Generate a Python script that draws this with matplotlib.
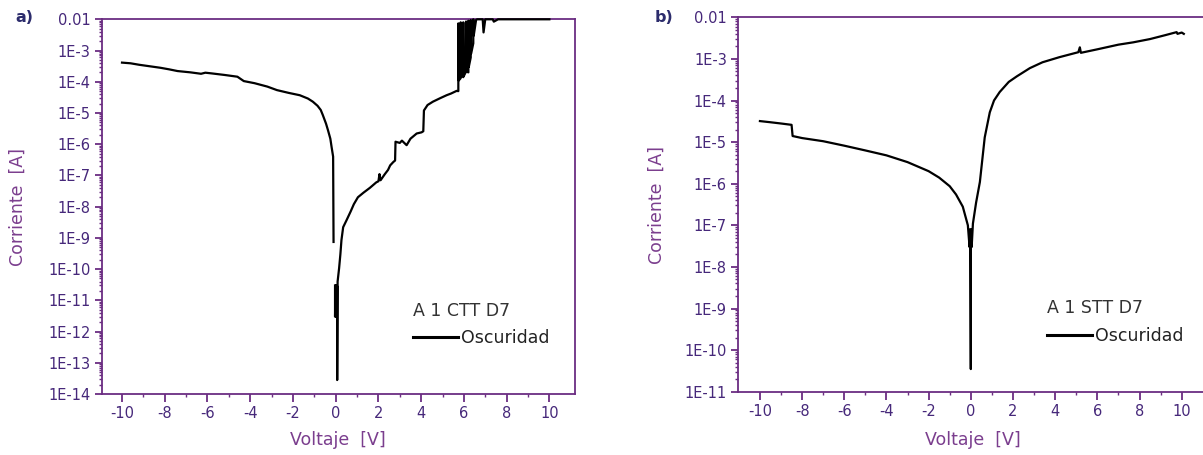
import matplotlib
matplotlib.use("Agg")
import matplotlib.pyplot as plt
from matplotlib.ticker import FixedLocator, FixedFormatter, LogLocator, NullFormatter

nan = float("nan")

# ---------------- data ----------------
# Panel a) A 1 CTT D7 (dark)
v_a = [-10.0, -9.6, -9.2, -8.8, -8.2, -7.8, -7.4, -6.8, -6.3, -6.1, -5.8, -5.2, -4.6, -4.3,
       -3.8, -3.2, -2.75, -2.2, -1.68, -1.3, -1.07, -0.85, -0.7, -0.6, -0.45, -0.36, -0.25,
       -0.19, -0.12, -0.1, nan,
       -0.03, -0.03, -0.01, -0.01, 0.01, 0.01, 0.03, 0.03, 0.05, nan,
       0.07, 0.07, 0.09, 0.16, 0.22, 0.27, 0.35, 0.51, 0.7, 0.85, 1.04, 1.3, 1.6, 1.9, 2.0,
       2.05, 2.1, 2.3, 2.45, 2.55, 2.7, 2.78, 2.8, 3.0, 3.1, 3.32, 3.5, 3.79, 4.02, 4.1, 4.13,
       4.3, 4.55, 4.9, 5.19, 5.4, 5.66, 5.74,
       5.74, 5.76, 5.85, 5.85, 5.87, 5.97, 5.97, 5.99, 6.10, 6.10, 6.12, 6.21, 6.21, 6.23,
       6.32, 6.32, 6.34, 6.44, 6.44, 6.46, 6.57, 6.62, 6.75, 6.88, 6.92, 7.0,
       7.2, 7.35, 7.4, 7.6, 8.0, 9.0, 10.0]
i_a = [4.1e-4, 3.9e-4, 3.5e-4, 3.2e-4, 2.8e-4, 2.5e-4, 2.2e-4, 2.0e-4, 1.8e-4, 1.95e-4,
       1.85e-4, 1.65e-4, 1.45e-4, 1.05e-4, 9e-5, 7e-5, 5.4e-5, 4.4e-5, 3.7e-5, 2.9e-5,
       2.3e-5, 1.7e-5, 1.25e-5, 8.5e-6, 4.5e-6, 2.8e-6, 1.5e-6, 8e-7, 4e-7, 7.4e-10, nan,
       3e-11, 3e-12, 2e-11, 4e-12, 3e-11, 3e-12, 2e-11, 4e-12, 2.5e-11, nan,
       2.7e-11, 2.8e-14, 4e-11, 1.07e-10, 3e-10, 8.5e-10, 2.2e-9, 3.7e-9, 7e-9, 1.2e-8,
       2.0e-8, 2.8e-8, 4e-8, 6e-8, 6.5e-8, 1.1e-7, 7e-8, 1.1e-7, 1.5e-7, 2.1e-7, 2.7e-7,
       3e-7, 1.2e-6, 1.1e-6, 1.3e-6, 9.3e-7, 1.5e-6, 2.2e-6, 2.4e-6, 2.6e-6, 1.2e-5,
       1.8e-5, 2.3e-5, 3e-5, 3.7e-5, 4.2e-5, 5.1e-5, 5.0e-5,
       7.4e-3, 1.1e-4, 1.3e-4, 8e-3, 1.6e-4, 1.4e-4, 8e-3, 1.5e-4, 2.1e-4, 8.5e-3, 2.1e-4,
       2e-4, 9e-3, 3e-4, 6e-4, 9.5e-3, 8e-4, 1.7e-3, 1e-2, 3e-3, 9.5e-3, 1e-2, 1e-2,
       1e-2, 3.8e-3, 1e-2, 1e-2, 1e-2, 8.4e-3, 1e-2, 1e-2, 1e-2, 1e-2]

# Panel b) A 1 STT D7 (dark)
v_b = [-10.0, -9.5, -9.0, -8.5, -8.45, -8.0, -7.0, -6.0, -5.0, -4.0, -3.0, -2.0, -1.5, -1.0,
       -0.7, -0.38, -0.14, -0.06, -0.04, -0.02, 0.0, 0.0, 0.02, 0.04, 0.1, 0.25, 0.43, 0.55,
       0.66, 0.9, 1.1, 1.37, 1.8, 2.18, 2.8, 3.4, 4.2, 5.1, 5.17, 5.22, 6.0, 7.0, 7.7, 8.5,
       9.2, 9.76, 9.8, 10.0, 10.1]
i_b = [3.2e-5, 3.0e-5, 2.8e-5, 2.6e-5, 1.4e-5, 1.25e-5, 1.05e-5, 8.2e-6, 6.3e-6, 4.8e-6,
       3.3e-6, 2.0e-6, 1.4e-6, 8.7e-7, 5.5e-7, 2.8e-7, 1.0e-7, 3e-8, 8e-8, 2.5e-8, 3.5e-11,
       3e-8, 8e-8, 3e-8, 1.1e-7, 3.5e-7, 1.1e-6, 4e-6, 1.3e-5, 5.2e-5, 1e-4, 1.6e-4, 2.8e-4,
       3.8e-4, 6e-4, 8.3e-4, 1.1e-3, 1.45e-3, 1.9e-3, 1.4e-3, 1.7e-3, 2.2e-3, 2.5e-3, 3.0e-3,
       3.7e-3, 4.4e-3, 4.0e-3, 4.3e-3, 4.0e-3]

x_ticks = [-10, -8, -6, -4, -2, 0, 2, 4, 6, 8, 10]
x_tick_labels = ["-10", "-8", "-6", "-4", "-2", "0", "2", "4", "6", "8", "10"]
y_ticks_a = [1e-2, 1e-3, 1e-4, 1e-5, 1e-6, 1e-7, 1e-8, 1e-9, 1e-10, 1e-11, 1e-12, 1e-13, 1e-14]
y_labels_a = ["0.01", "1E-3", "1E-4", "1E-5", "1E-6", "1E-7", "1E-8", "1E-9", "1E-10",
              "1E-11", "1E-12", "1E-13", "1E-14"]
y_ticks_b = [1e-2, 1e-3, 1e-4, 1e-5, 1e-6, 1e-7, 1e-8, 1e-9, 1e-10, 1e-11]
y_labels_b = ["0.01", "1E-3", "1E-4", "1E-5", "1E-6", "1E-7", "1E-8", "1E-9", "1E-10", "1E-11"]
series_name = "Oscuridad"
title_a = "A 1 CTT D7"
title_b = "A 1 STT D7"
x_label = "Voltaje  [V]"
y_label = "Corriente  [A]"

# ---------------- style ----------------
plt.rcParams["font.family"] = ["DejaVu Sans"]
plt.rcParams["axes.unicode_minus"] = False
spine_c = "#6b2d82"
tick_c = "#46287a"
label_c = "#7b3e8e"
W, H = 1203, 455
fig = plt.figure(figsize=(W / 100, H / 100), dpi=100)


def px_axes(l, t, r, b):
    return fig.add_axes([l / W, 1 - b / H, (r - l) / W, (b - t) / H])


def style(ax, yt, yl, ylim, xlim, ylab_x, xlab_y):
    ax.set_yscale("log")
    ax.set_ylim(*ylim)
    ax.set_xlim(*xlim)
    ax.xaxis.set_major_locator(FixedLocator(x_ticks))
    ax.xaxis.set_major_formatter(FixedFormatter(x_tick_labels))
    ax.xaxis.set_minor_locator(FixedLocator([-9, -7, -5, -3, -1, 1, 3, 5, 7, 9]))
    ax.yaxis.set_major_locator(FixedLocator(yt))
    ax.yaxis.set_major_formatter(FixedFormatter(yl))
    ax.yaxis.set_minor_locator(LogLocator(base=10, subs=range(2, 10), numticks=50))
    ax.yaxis.set_minor_formatter(NullFormatter())
    for s in ax.spines.values():
        s.set_color(spine_c)
        s.set_linewidth(1.3)
    ax.tick_params(which="major", direction="out", length=5, width=1.3, color=spine_c,
                   labelcolor=tick_c, labelsize=10.5, pad=3)
    ax.tick_params(which="minor", direction="out", length=2.5, width=1.0, color=spine_c)
    ax.tick_params(axis="x", which="major", length=6, pad=3)
    ax.set_xlabel(x_label, color=label_c, fontsize=12.5, va="center")
    ax.set_ylabel(y_label, color=label_c, fontsize=12.5, va="center")
    ax.yaxis.set_label_coords(ylab_x, 0.5)
    ax.xaxis.set_label_coords(0.5, xlab_y)


def add_legend(ax, line, title):
    leg = ax.legend([line], [series_name], title=title, frameon=False, loc="upper left",
                    bbox_to_anchor=(0.64, 0.27), fontsize=12.5, title_fontsize=12.5,
                    handlelength=2.6, handletextpad=0.15, borderpad=0, labelspacing=0.55)
    leg._legend_box.align = "left"
    leg.get_title().set_color("#333333")
    for t in leg.get_texts():
        t.set_color("#222222")
    for h in leg.legend_handles:
        h.set_linewidth(2.2)
    return leg


# panel a
ax1 = px_axes(101.5, 19.3, 575, 394)
ln1, = ax1.plot(v_a, i_a, color="black", lw=1.6, zorder=3, clip_on=False)
style(ax1, y_ticks_a, y_labels_a, (1e-14, 1e-2), (-10.96, 11.2), -0.176, -0.123)
add_legend(ax1, ln1, title_a)
fig.text(15 / W, 1 - 18 / H, "a)", fontsize=11.5, fontweight="bold", color="#2c2c6c",
         ha="left", va="center")

# panel b
ax2 = px_axes(738, 17.3, 1207, 391.7)
ln2, = ax2.plot(v_b, i_b, color="black", lw=1.6, zorder=3)
style(ax2, y_ticks_b, y_labels_b, (1e-11, 1e-2), (-11.04, 11.2), -0.173, -0.129)
add_legend(ax2, ln2, title_b)
fig.text(655 / W, 1 - 18 / H, "b)", fontsize=11.5, fontweight="bold", color="#2c2c6c",
         ha="left", va="center")

fig.savefig("out.png", dpi=100)
